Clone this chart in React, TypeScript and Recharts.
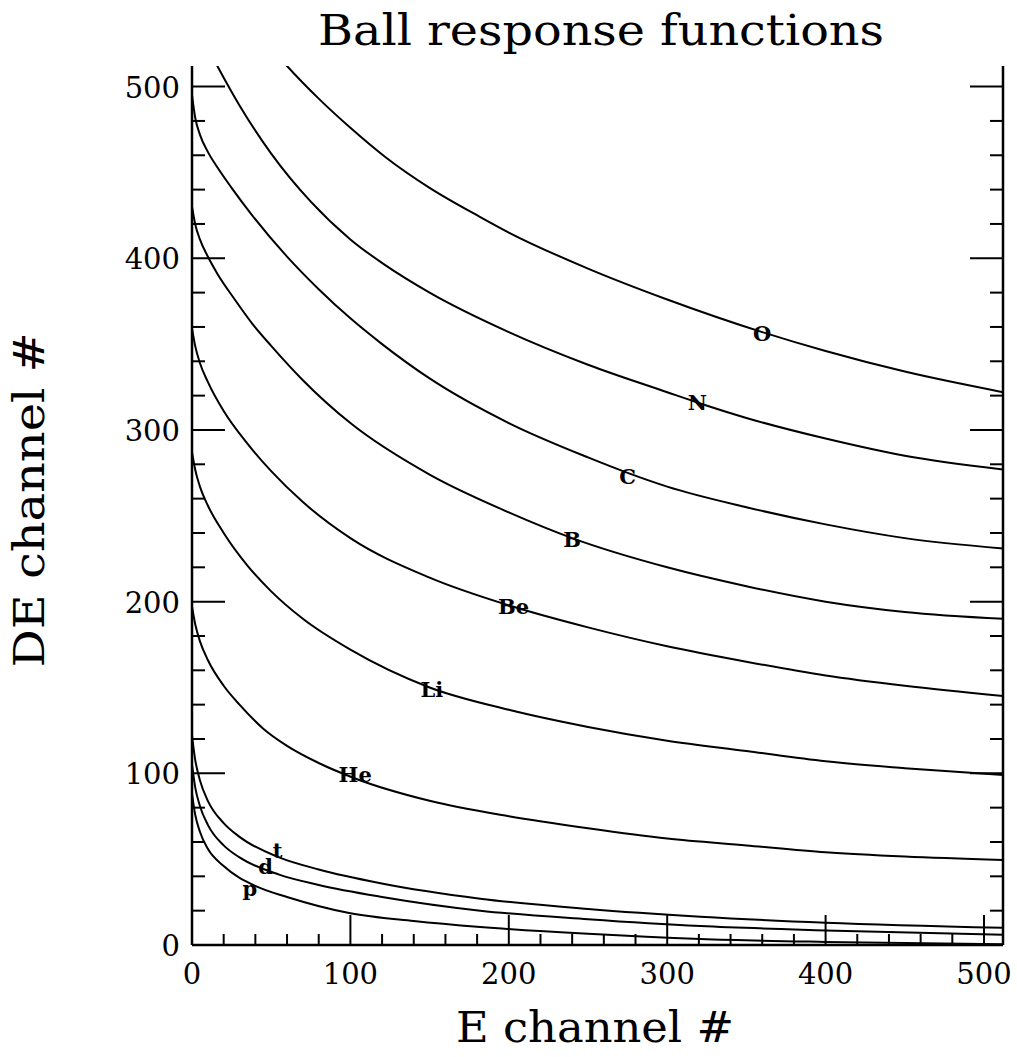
import React from 'react';
import { LineChart, Line, XAxis, YAxis, ReferenceDot } from 'recharts';

// Ball response functions — DE channel vs E channel for each ion species.
// Each curve is a list of [E channel, DE channel] points.

const curveP: [number, number][] = [
  [0, 88], [2, 76], [5, 66], [10, 56], [20, 46], [41, 34], [60, 28], [100, 18.5],
  [140, 14], [182, 10.5], [250, 6.5], [321, 3.5], [400, 1.8], [512, 0.5],
];
const curveD: [number, number][] = [
  [0, 105], [2, 92], [5, 81], [10, 70], [20, 58], [30, 51], [55, 41], [80, 35],
  [120, 28], [182, 20], [250, 15], [321, 11], [400, 8.5], [512, 6],
];
const curveT: [number, number][] = [
  [0, 122], [2, 108], [5, 96], [10, 84], [20, 71], [30, 63], [55, 51], [80, 44],
  [119, 36], [182, 27], [250, 21], [321, 16.5], [400, 13], [512, 10],
];
const curveHe: [number, number][] = [
  [0, 197], [2, 187], [5, 177], [10, 166], [20, 151], [30, 140], [45, 126], [60, 116],
  [80, 106], [103, 97], [150, 84], [200, 75], [250, 68], [300, 62], [350, 58], [400, 54], [450, 51.5], [512, 49.5],
];
const curveLi: [number, number][] = [
  [0, 287], [2, 277], [5, 267], [10, 256], [20, 240], [35, 221], [50, 206], [70, 190],
  [100, 172], [150, 150], [200, 137], [250, 127], [300, 119], [350, 113], [400, 107], [450, 103], [512, 99],
];
const curveBe: [number, number][] = [
  [0, 359], [2, 349], [5, 339], [10, 328], [20, 311], [35, 292], [50, 276], [70, 258],
  [100, 237], [150, 214], [203, 197], [250, 185], [300, 174], [350, 165], [400, 157], [450, 151], [512, 145],
];
const curveB: [number, number][] = [
  [0, 430], [2, 420], [5, 411], [10, 401], [16, 391], [27, 376], [38, 362], [50, 349], [70, 329],
  [100, 304], [150, 274], [200, 252], [240, 237], [300, 220], [350, 209], [400, 200], [450, 194], [512, 190],
];
const curveC: [number, number][] = [
  [0, 495], [2, 482], [5, 472], [10, 462], [16, 453], [25, 441], [38, 425], [60, 401], [80, 382],
  [100, 365], [120, 350], [150, 330], [200, 304], [250, 284], [275, 275], [300, 267], [350, 255],
  [400, 245], [450, 237], [512, 231],
];
const curveN: [number, number][] = [
  [8, 526], [16, 512], [30, 489], [50, 461], [75, 433], [100, 411], [122, 396], [150, 380],
  [200, 357], [250, 338], [300, 322], [319, 316], [350, 307], [400, 295], [450, 285], [512, 277],
];
const curveO: [number, number][] = [
  [45, 528], [60, 512], [80, 493], [100, 476], [122, 459], [150, 441], [182, 424], [200, 415],
  [250, 394], [300, 376], [360, 357], [400, 346], [450, 334], [512, 322],
];

const seriesNames = ['p', 'd', 't', 'He', 'Li', 'Be', 'B', 'C', 'N', 'O'];
const seriesPoints = [curveP, curveD, curveT, curveHe, curveLi, curveBe, curveB, curveC, curveN, curveO];

// where each species name sits on its curve
const labelE = [36.5, 46.5, 54, 103, 151.5, 203, 240, 275, 319, 360];
const labelDE = [33, 45.5, 55, 99, 149, 197, 236, 273, 316, 356];

const ticks = [0, 20, 40, 60, 80, 100, 120, 140, 160, 180, 200, 220, 240, 260, 280, 300,
  320, 340, 360, 380, 400, 420, 440, 460, 480, 500];
const tickLabels = ['0', '100', '200', '300', '400', '500'];

const DOMAIN: [number, number] = [0, 512];
const INK = '#000';
const SERIF = '"DejaVu Serif", serif';

const isMajor = (v: number) => v % 100 === 0;

function makeTick(side: 'bottom' | 'top' | 'left' | 'right') {
  return (props: any) => {
    const { x, y, payload } = props;
    const v = payload.value as number;
    const major = isMajor(v);
    const horiz = side === 'bottom' || side === 'top';
    const len = horiz ? (major ? 30 : 11) : (major ? 33 : 13);
    let x2 = x, y2 = y;
    if (side === 'bottom') y2 = y - len;
    if (side === 'top') y2 = y + len;
    if (side === 'left') x2 = x + len;
    if (side === 'right') x2 = x - len;
    const showLabel = major && tickLabels.includes(String(v));
    return (
      <g>
        <line x1={x} y1={y} x2={x2} y2={y2} stroke={INK} strokeWidth={2} />
        {side === 'bottom' && showLabel && (
          <text x={x} y={y + 39} textAnchor="middle" fontFamily={SERIF} fontSize={29} fill={INK}>{v}</text>
        )}
        {side === 'left' && showLabel && (
          <text x={x - 12} y={y + 11} textAnchor="end" fontFamily={SERIF} fontSize={29} fill={INK}>{v}</text>
        )}
      </g>
    );
  };
}

export default function App() {
  const data = seriesPoints.map((pts) => pts.map(([e, de]) => ({ e, de })));
  return (
    <div style={{ position: 'absolute', left: 0, top: 0, width: 1017, height: 1057, background: '#fff' }}>
      <LineChart width={1017} height={1057} margin={{ top: 66, right: 0, bottom: 0, left: 0 }}>
        <XAxis xAxisId="b" type="number" dataKey="e" domain={DOMAIN} ticks={ticks} interval={0}
          allowDataOverflow orientation="bottom" height={112} tickSize={0} tickMargin={0}
          axisLine={{ stroke: INK, strokeWidth: 2.5 }} tickLine={false} tick={makeTick('bottom')} />
        <XAxis xAxisId="t" type="number" dataKey="e" domain={DOMAIN} ticks={ticks} interval={0}
          allowDataOverflow orientation="top" height={0} tickSize={0} tickMargin={0}
          axisLine={{ stroke: INK, strokeWidth: 2.5 }} tickLine={false} tick={makeTick('top')} />
        <YAxis yAxisId="l" type="number" domain={DOMAIN} ticks={ticks} interval={0}
          allowDataOverflow orientation="left" width={192} tickSize={0} tickMargin={0}
          axisLine={{ stroke: INK, strokeWidth: 2.5 }} tickLine={false} tick={makeTick('left')} />
        <YAxis yAxisId="r" type="number" domain={DOMAIN} ticks={ticks} interval={0}
          allowDataOverflow orientation="right" width={14} tickSize={0} tickMargin={0}
          axisLine={{ stroke: INK, strokeWidth: 2.5 }} tickLine={false} tick={makeTick('right')} />
        {data.map((d, i) => (
          <Line key={seriesNames[i]} xAxisId="b" yAxisId="l" data={d} dataKey="de" type="monotone"
            stroke={INK} strokeWidth={2} dot={false} isAnimationActive={false} />
        ))}
        {seriesNames.map((name, i) => (
          <ReferenceDot key={'lab' + name} xAxisId="b" yAxisId="l" x={labelE[i]} y={labelDE[i]} r={0}
            fill="none" stroke="none"
            label={{ value: name, position: 'center', fontFamily: SERIF, fontWeight: 'bold', fontSize: 21, fill: INK }} />
        ))}
        <text x={601} y={45} textAnchor="middle" fontFamily={SERIF} fontSize={42} fill={INK}
          textLength={566} lengthAdjust="spacingAndGlyphs">Ball response functions</text>
        <text x={595} y={1042} textAnchor="middle" fontFamily={SERIF} fontSize={42} fill={INK}
          textLength={278} lengthAdjust="spacingAndGlyphs">E channel #</text>
        <text x={44} y={500} textAnchor="middle" fontFamily={SERIF} fontSize={42} fill={INK}
          textLength={335} lengthAdjust="spacingAndGlyphs"
          transform="rotate(-90 44 500)">DE channel #</text>
      </LineChart>
    </div>
  );
}
